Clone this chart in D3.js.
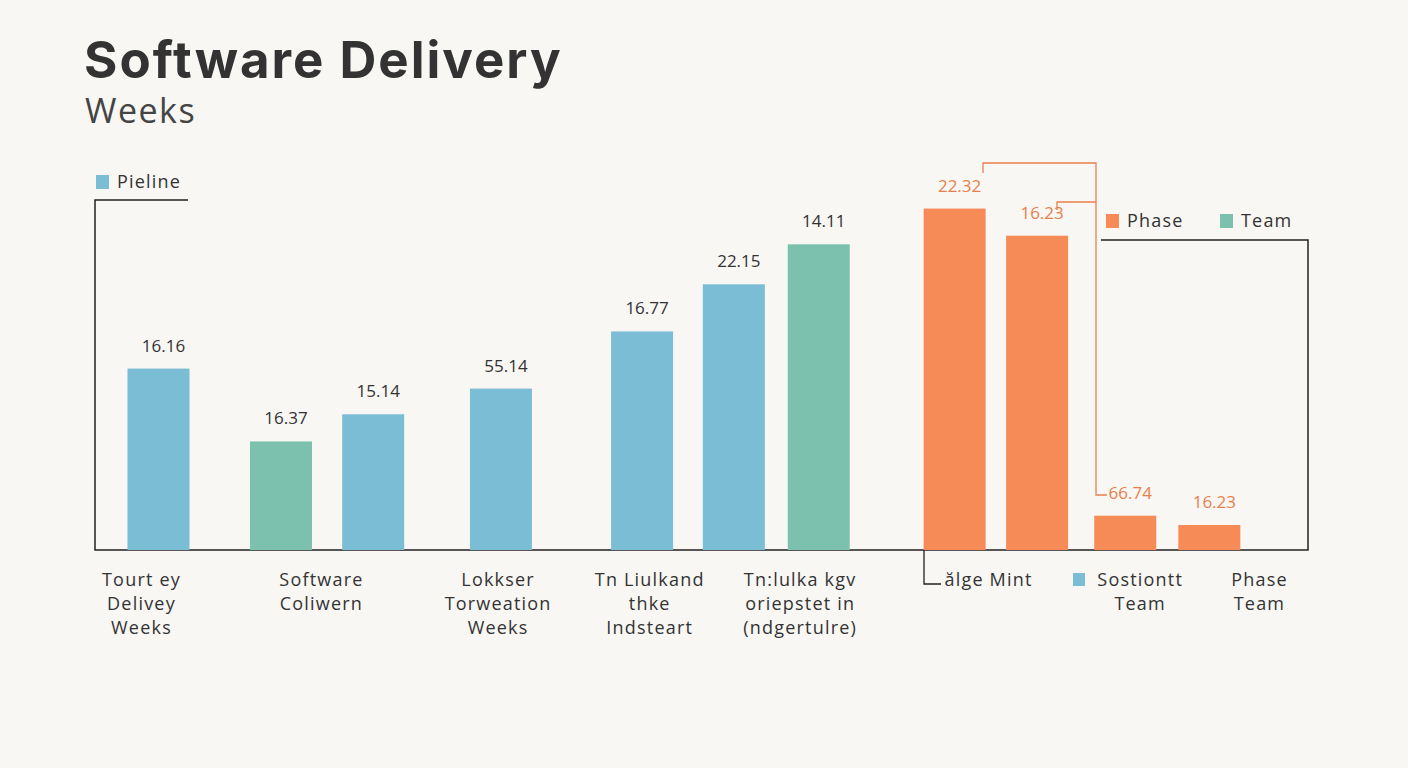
<!DOCTYPE html>
<html>
<head>
<meta charset="utf-8">
<script src="https://cdn.jsdelivr.net/npm/d3@7"></script>
<style>
  body { margin: 0; background: #f8f7f3; }
  svg text { font-family: "Open Sans", "Noto Sans", sans-serif; fill: #333; }
</style>
</head>
<body>
<div id="chart"></div>
<script>
// values (weeks)
var values = [12.7, 7.6, 9.5, 11.3, 15.3, 18.6, 21.4, 23.9, 22.0, 2.4, 1.75];
// printed labels above each bar (as shown)
var valueLabels = ["16.16", "16.37", "15.14", "55.14", "16.77", "22.15", "14.11", "22.32", "16.23", "66.74", "16.23"];
// series of each bar
var series = ["Pieline", "Team", "Pieline", "Pieline", "Pieline", "Pieline", "Team", "Phase", "Phase", "Phase", "Phase"];
// slot centre of each bar along the axis
var slots = [1.57, 4.6, 6.88, 10.04, 13.53, 15.8, 17.9, 21.26, 23.3, 25.48, 27.56];
// category labels under the axis
var categories = [
  { at: 1.15, lines: ["Tourt ey", "Delivey", "Weeks"] },
  { at: 5.6, lines: ["Software", "Coliwern"] },
  { at: 9.97, lines: ["Lokkser", "Torweation", "Weeks"] },
  { at: 13.72, lines: ["Tn Liulkand", "thke", "Indsteart"] },
  { at: 17.44, lines: ["Tn:lulka kgv", "oriepstet in", "(ndgertulre)"] },
  { at: 22.1, lines: ["ălge Mint"] },
  { at: 25.85, lines: ["Sostiontt", "Team"] },
  { at: 28.8, lines: ["Phase", "Team"] }
];
var colors = { "Pieline": "#7bbdd4", "Team": "#7cc1ae", "Phase": "#f68b57" };

var W = 1408, H = 768;
var svg = d3.select("#chart").append("svg").attr("width", W).attr("height", H);

svg.append("rect").attr("width", W).attr("height", H).attr("fill", "#f8f7f3");

// titles
svg.append("text").attr("x", 84).attr("y", 78)
  .attr("font-size", 51).attr("font-weight", 700)
  .style("font-family", "Inter, 'Open Sans', sans-serif")
  .style("letter-spacing", "2px")
  .text("Software Delivery");
svg.append("text").attr("x", 85).attr("y", 123)
  .attr("font-size", 34).style("fill", "#444")
  .style("letter-spacing", "1.5px")
  .text("Weeks");

// scales
var x = d3.scaleLinear().domain([0, 30]).range([95, 1308]);
var y = d3.scaleLinear().domain([0, 28]).range([550, 150]);
var barW = 62;

// frame lines
var ink = "#222";
svg.append("path").attr("fill", "none").attr("stroke", ink).attr("stroke-width", 1.5)
  .attr("d", "M188,200H95V550H1308V240H1101");

// orange brackets
var br = "#e8804c";
svg.append("path").attr("fill", "none").attr("stroke", br).attr("stroke-width", 1.3)
  .attr("d", "M983,173V163H1096V495H1107");
svg.append("path").attr("fill", "none").attr("stroke", br).attr("stroke-width", 1.3)
  .attr("d", "M1057,210V202H1096");
svg.append("path").attr("fill", "none").attr("stroke", ink).attr("stroke-width", 1.3)
  .attr("d", "M924,550V584H941");

// bars
var idx = d3.range(values.length);
svg.selectAll(".bar").data(idx).enter().append("rect")
  .attr("class", "bar")
  .attr("x", function(i) { return x(slots[i]) - barW / 2; })
  .attr("y", function(i) { return y(values[i]); })
  .attr("width", barW)
  .attr("height", function(i) { return y(0) - y(values[i]); })
  .attr("fill", function(i) { return colors[series[i]]; });

// value labels
svg.selectAll(".vlabel").data(idx).enter().append("text")
  .attr("class", "vlabel")
  .attr("x", function(i) { return x(slots[i]) + 5; })
  .attr("y", function(i) { return y(values[i]) - 17; })
  .attr("text-anchor", "middle")
  .attr("font-size", 17)
  .style("fill", function(i) { return series[i] === "Phase" ? br : "#333"; })
  .text(function(i) { return valueLabels[i]; });

// category labels
var cat = svg.selectAll(".cat").data(categories).enter().append("text")
  .attr("class", "cat")
  .attr("text-anchor", "middle")
  .attr("font-size", 18)
  .style("letter-spacing", "1.2px")
  .attr("y", 586);
cat.selectAll("tspan").data(function(d) { return d.lines.map(function(l) { return { l: l, at: d.at }; }); })
  .enter().append("tspan")
  .attr("x", function(d) { return x(d.at); })
  .attr("dy", function(d, i) { return i === 0 ? 0 : 24; })
  .text(function(d) { return d.l; });

// small blue marker inside category labels
svg.append("rect").attr("x", 1073).attr("y", 573).attr("width", 12).attr("height", 13)
  .attr("fill", colors["Pieline"]);

// legends
var legends = [
  { name: "Pieline", x: 96, y: 175 },
  { name: "Phase", x: 1106, y: 214 },
  { name: "Team", x: 1220, y: 214 }
];
var lg = svg.selectAll(".lg").data(legends).enter().append("g")
  .attr("transform", function(d) { return "translate(" + d.x + "," + d.y + ")"; });
lg.append("rect").attr("width", 13).attr("height", 14)
  .attr("fill", function(d) { return colors[d.name]; });
lg.append("text").attr("x", 21).attr("y", 13).attr("font-size", 18)
  .style("letter-spacing", "1.2px")
  .text(function(d) { return d.name; });
</script>
</body>
</html>
